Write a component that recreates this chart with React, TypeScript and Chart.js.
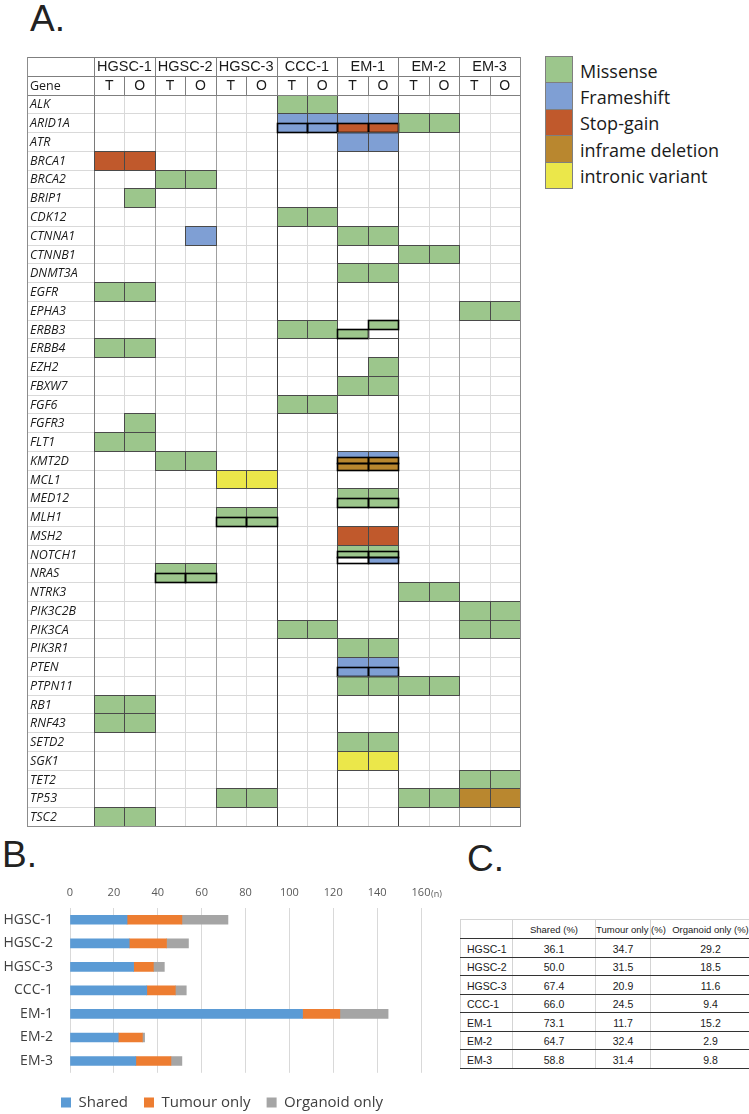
import React, { useEffect, useRef } from 'react';
import { Chart, registerables } from 'chart.js';

Chart.register(...registerables);

// ---------- Panel A data ----------
const genes = ['ALK', 'ARID1A', 'ATR', 'BRCA1', 'BRCA2', 'BRIP1', 'CDK12', 'CTNNA1', 'CTNNB1', 'DNMT3A', 'EGFR', 'EPHA3', 'ERBB3', 'ERBB4', 'EZH2', 'FBXW7', 'FGF6', 'FGFR3', 'FLT1', 'KMT2D', 'MCL1', 'MED12', 'MLH1', 'MSH2', 'NOTCH1', 'NRAS', 'NTRK3', 'PIK3C2B', 'PIK3CA', 'PIK3R1', 'PTEN', 'PTPN11', 'RB1', 'RNF43', 'SETD2', 'SGK1', 'TET2', 'TP53', 'TSC2'];
const cases = ['HGSC-1', 'HGSC-2', 'HGSC-3', 'CCC-1', 'EM-1', 'EM-2', 'EM-3'];
const samples = ['T', 'O'];
const geneHeader = 'Gene';
const mutationTypes = ['Missense', 'Frameshift', 'Stop-gain', 'inframe deletion', 'intronic variant'];
const mutationCodes = ['M', 'F', 'S', 'I', 'V'];
const mutationColors = ['#9cc68c', '#7f9fd4', '#c0592c', '#b9872f', '#ebe74a'];

// [gene, case, samples carrying it, variant slots top->bottom ('-' none, '*' distinct outlined variant)]
const variantCalls: [string, string, string, string[]][] = [
  ['ALK', 'CCC-1', 'TO', ['M']],
  ['ARID1A', 'CCC-1', 'TO', ['F', 'F*']],
  ['ARID1A', 'EM-1', 'TO', ['F', 'S*']],
  ['ARID1A', 'EM-2', 'TO', ['M']],
  ['ATR', 'EM-1', 'TO', ['F']],
  ['BRCA1', 'HGSC-1', 'TO', ['S']],
  ['BRCA2', 'HGSC-2', 'TO', ['M']],
  ['BRIP1', 'HGSC-1', 'O', ['M']],
  ['CDK12', 'CCC-1', 'TO', ['M']],
  ['CTNNA1', 'HGSC-2', 'O', ['F']],
  ['CTNNA1', 'EM-1', 'TO', ['M']],
  ['CTNNB1', 'EM-2', 'TO', ['M']],
  ['DNMT3A', 'EM-1', 'TO', ['M']],
  ['EGFR', 'HGSC-1', 'TO', ['M']],
  ['EPHA3', 'EM-3', 'TO', ['M']],
  ['ERBB3', 'CCC-1', 'TO', ['M']],
  ['ERBB3', 'EM-1', 'T', ['-', 'M*']],
  ['ERBB3', 'EM-1', 'O', ['M*', '-']],
  ['ERBB4', 'HGSC-1', 'TO', ['M']],
  ['EZH2', 'EM-1', 'O', ['M']],
  ['FBXW7', 'EM-1', 'TO', ['M']],
  ['FGF6', 'CCC-1', 'TO', ['M']],
  ['FGFR3', 'HGSC-1', 'O', ['M']],
  ['FLT1', 'HGSC-1', 'TO', ['M']],
  ['KMT2D', 'HGSC-2', 'TO', ['M']],
  ['KMT2D', 'EM-1', 'TO', ['F', 'I*', 'I*']],
  ['MCL1', 'HGSC-3', 'TO', ['V']],
  ['MED12', 'EM-1', 'TO', ['M', 'M*']],
  ['MLH1', 'HGSC-3', 'TO', ['M', 'M*']],
  ['MSH2', 'EM-1', 'TO', ['S']],
  ['NOTCH1', 'EM-1', 'T', ['M', 'M*', '-*']],
  ['NOTCH1', 'EM-1', 'O', ['M', 'M*', 'F*']],
  ['NRAS', 'HGSC-2', 'TO', ['M', 'M*']],
  ['NTRK3', 'EM-2', 'TO', ['M']],
  ['PIK3C2B', 'EM-3', 'TO', ['M']],
  ['PIK3CA', 'CCC-1', 'TO', ['M']],
  ['PIK3CA', 'EM-3', 'TO', ['M']],
  ['PIK3R1', 'EM-1', 'TO', ['M']],
  ['PTEN', 'EM-1', 'TO', ['F', 'F*']],
  ['PTPN11', 'EM-1', 'TO', ['M']],
  ['PTPN11', 'EM-2', 'TO', ['M']],
  ['RB1', 'HGSC-1', 'TO', ['M']],
  ['RNF43', 'HGSC-1', 'TO', ['M']],
  ['SETD2', 'EM-1', 'TO', ['M']],
  ['SGK1', 'EM-1', 'TO', ['V']],
  ['TET2', 'EM-3', 'TO', ['M']],
  ['TP53', 'HGSC-3', 'TO', ['M']],
  ['TP53', 'EM-2', 'TO', ['M']],
  ['TP53', 'EM-3', 'TO', ['I']],
  ['TSC2', 'HGSC-1', 'TO', ['M']],
];

// ---------- Panel B data ----------
const barSeriesNames = ['Shared', 'Tumour only', 'Organoid only'];
const sharedCounts = [26, 27, 29, 35, 106, 22, 30];
const tumourOnlyCounts = [25, 17, 9, 13, 17, 11, 16];
const organoidOnlyCounts = [21, 10, 5, 5, 22, 1, 5];
const barColors = ['#5b9bd5', '#ed7d31', '#a5a5a5'];
const countAxisMax = 160;
const countAxisStep = 20;
const unitLabel = '(n)';

// ---------- Panel C data ----------
const tableHeaders = ['', 'Shared (%)', 'Tumour only (%)', 'Organoid only (%)'];
const sharedPct = ['36.1', '50.0', '67.4', '66.0', '73.1', '64.7', '58.8'];
const tumourOnlyPct = ['34.7', '31.5', '20.9', '24.5', '11.7', '32.4', '31.4'];
const organoidOnlyPct = ['29.2', '18.5', '11.6', '9.4', '15.2', '2.9', '9.8'];

const GENE_COL_UNITS = 2.2;

const mutationGridPlugin = {
  id: 'mutationGrid',
  afterDraw(chart: any) {
    const { ctx } = chart;
    const xs = chart.scales.x;
    const ys = chart.scales.y;
    const X = (v: number) => xs.getPixelForValue(v);
    const Y = (v: number) => ys.getPixelForValue(v);
    const nCols = cases.length * samples.length;
    const nRows = genes.length + 2;
    const xMin = -GENE_COL_UNITS;
    const sn = (v: number) => Math.round(v) + 0.5;
    const hLine = (y: number, x0: number, x1: number, color: string, w = 1) => {
      ctx.strokeStyle = color; ctx.lineWidth = w;
      ctx.beginPath(); ctx.moveTo(Math.round(X(x0)), sn(Y(y))); ctx.lineTo(Math.round(X(x1)) + 1, sn(Y(y))); ctx.stroke();
    };
    const vLine = (x: number, y0: number, y1: number, color: string, w = 1) => {
      ctx.strokeStyle = color; ctx.lineWidth = w;
      ctx.beginPath(); ctx.moveTo(sn(X(x)), Math.round(Y(y0))); ctx.lineTo(sn(X(x)), Math.round(Y(y1)) + 1); ctx.stroke();
    };
    ctx.save();
    ctx.fillStyle = '#ffffff';
    ctx.fillRect(X(xMin), Y(0), X(nCols) - X(xMin), Y(nRows) - Y(0));

    const cells: { col: number; row: number; slots: string[] }[] = [];
    variantCalls.forEach(([gene, cs, smp, slots]) => {
      const row = genes.indexOf(gene) + 2;
      const g = cases.indexOf(cs);
      for (const s of smp) {
        cells.push({ col: g * samples.length + samples.indexOf(s), row, slots });
      }
    });
    // fills
    cells.forEach(({ col, row, slots }) => {
      const n = slots.length;
      slots.forEach((slot, k) => {
        const ti = mutationCodes.indexOf(slot[0]);
        if (ti < 0) return;
        const x0 = Math.round(X(col)), x1 = Math.round(X(col + 1));
        const y0 = Math.round(Y(row + k / n)), y1 = Math.round(Y(row + (k + 1) / n));
        ctx.fillStyle = mutationColors[ti];
        ctx.fillRect(x0, y0, x1 - x0, y1 - y0);
      });
    });
    // light grid
    for (let r = 3; r < nRows; r++) hLine(r, xMin, nCols, '#d9d9d9');
    for (let c = 1; c < nCols; c++) vLine(c, 2, nRows, '#d9d9d9');
    // group separators
    for (let c = 2; c < nCols; c += 2) {
      const dark = c === 6 || c === 8 || c === 10;
      vLine(c, 2, nRows, dark ? '#3c3c3c' : '#a0a0a0');
    }
    vLine(0, 0, nRows, '#7a7a7a');
    // filled cell outlines
    cells.forEach(({ col, row, slots }) => {
      const x0 = Math.round(X(col)), x1 = Math.round(X(col + 1));
      const y0 = Math.round(Y(row)), y1 = Math.round(Y(row + 1));
      ctx.strokeStyle = '#4a4a4a'; ctx.lineWidth = 1;
      if (slots.some((s) => s[0] !== '-')) {
        if (slots.length === 1 || slots[0][0] !== '-') ctx.strokeRect(x0 + 0.5, y0 + 0.5, x1 - x0, y1 - y0);
      }
      const n = slots.length;
      slots.forEach((slot, k) => {
        if (!slot.endsWith('*')) return;
        const sy0 = Math.round(Y(row + k / n)), sy1 = Math.round(Y(row + (k + 1) / n));
        ctx.strokeStyle = '#000000'; ctx.lineWidth = 1.6;
        ctx.strokeRect(x0 + 0.5, sy0 + 0.5, x1 - x0, sy1 - sy0);
      });
    });
    // header lines
    const hdr = '#7f7f7f';
    hLine(0, xMin, nCols, hdr);
    hLine(1, xMin, nCols, hdr);
    hLine(2, xMin, nCols, hdr);
    for (let c = 0; c <= nCols; c += 2) vLine(c, 0, 1, hdr);
    for (let c = 0; c <= nCols; c++) vLine(c, 1, 2, hdr);
    // outer border
    vLine(xMin, 0, nRows, '#8c8c8c');
    vLine(nCols, 0, nRows, '#8c8c8c');
    hLine(nRows, xMin, nCols, '#8c8c8c');

    // text
    ctx.fillStyle = '#1a1a1a';
    ctx.textBaseline = 'middle';
    ctx.textAlign = 'center';
    ctx.font = '14.5px "Liberation Sans", Arial, sans-serif';
    cases.forEach((cs, g) => ctx.fillText(cs, X(g * 2 + 1), Y(0.5) + 1));
    ctx.font = '14px "Liberation Sans", Arial, sans-serif';
    for (let c = 0; c < nCols; c++) ctx.fillText(samples[c % 2], X(c + 0.5), Y(1.5) + 1);
    ctx.textAlign = 'left';
    ctx.font = '12.5px "Open Sans", sans-serif';
    ctx.fillText(geneHeader, X(xMin) + 3, Y(1.5) + 1);
    ctx.font = 'italic 12.5px "Open Sans", sans-serif';
    genes.forEach((gname, i) => ctx.fillText(gname, X(xMin) + 3, Y(i + 2.5) + 1));
    ctx.restore();
  },
};

const unitLabelPlugin = {
  id: 'unitLabel',
  afterDraw(chart: any) {
    const { ctx, chartArea } = chart;
    const xs = chart.scales.x;
    ctx.save();
    ctx.font = '9px "Open Sans", sans-serif';
    ctx.fillStyle = '#595959';
    ctx.textBaseline = 'middle';
    ctx.textAlign = 'left';
    ctx.fillText(unitLabel, xs.getPixelForValue(xs.max) + 10, chartArea.top - 14);
    ctx.restore();
  },
};

const panelLabel = (text: string, left: number, top: number) => (
  <div
    style={{
      position: 'absolute', left, top, fontFamily: '"Liberation Sans", Arial, sans-serif',
      fontSize: 37, lineHeight: '37px', color: '#222',
    }}
  >
    {text}
  </div>
);

export default function App() {
  const heatRef = useRef<HTMLCanvasElement>(null);
  const barRef = useRef<HTMLCanvasElement>(null);

  useEffect(() => {
    const heat = new Chart(heatRef.current as HTMLCanvasElement, {
      type: 'scatter',
      data: { datasets: [{ data: [] }] },
      options: {
        animation: false,
        responsive: false,
        maintainAspectRatio: false,
        events: [],
        layout: { padding: 5 },
        scales: {
          x: { type: 'linear', min: -GENE_COL_UNITS, max: cases.length * samples.length, display: false },
          y: { type: 'linear', min: 0, max: genes.length + 2, reverse: true, display: false },
        },
        plugins: { legend: { display: false }, tooltip: { enabled: false } },
      },
      plugins: [mutationGridPlugin],
    } as any);

    const bar = new Chart(barRef.current as HTMLCanvasElement, {
      type: 'bar',
      data: {
        labels: cases,
        datasets: [
          { label: barSeriesNames[0], data: sharedCounts, backgroundColor: barColors[0], barThickness: 9 },
          { label: barSeriesNames[1], data: tumourOnlyCounts, backgroundColor: barColors[1], barThickness: 9 },
          { label: barSeriesNames[2], data: organoidOnlyCounts, backgroundColor: barColors[2], barThickness: 9 },
        ],
      },
      options: {
        indexAxis: 'y',
        animation: false,
        responsive: false,
        maintainAspectRatio: false,
        events: [],
        layout: { padding: 0 },
        scales: {
          x: {
            stacked: true,
            position: 'top',
            min: 0,
            max: countAxisMax,
            ticks: { stepSize: countAxisStep, color: '#595959', font: { family: '"Open Sans", sans-serif', size: 11 }, padding: 9 },
            grid: { color: '#d9d9d9', drawTicks: false },
            border: { display: false },
            afterFit: (s: any) => { s.height = 38; },
          },
          y: {
            stacked: true,
            ticks: { color: '#404040', font: { family: '"Open Sans", sans-serif', size: 14 }, padding: 17 },
            grid: { display: false, drawTicks: false },
            border: { display: false },
            afterFit: (s: any) => { s.width = 70; },
          },
          yGutter: {
            type: 'category',
            position: 'right',
            ticks: { display: false },
            grid: { display: false, drawTicks: false },
            border: { display: false },
            afterFit: (s: any) => { s.width = 23; },
          },
        },
        plugins: {
          legend: {
            position: 'bottom',
            title: { display: true, text: '', padding: 2.5, font: { size: 1 } },
            labels: {
              boxWidth: 10, boxHeight: 10, padding: 16, color: '#404040',
              font: { family: '"Open Sans", sans-serif', size: 15 },
            },
          },
          tooltip: { enabled: false },
        },
      },
      plugins: [unitLabelPlugin],
    } as any);

    return () => {
      heat.destroy();
      bar.destroy();
    };
  }, []);

  const legendRowH = 26.4;
  const colW = [52, 83, 55, 120];
  const light = '1px solid #d4d4d4';
  const dark = '1px solid #333';

  return (
    <div style={{ position: 'absolute', left: 0, top: 0, width: 749, height: 1114, overflow: 'hidden', background: '#fff' }}>
      {panelLabel('A.', 30, 0)}
      {panelLabel('B.', 2, 836)}
      {panelLabel('C.', 467, 840)}

      <canvas ref={heatRef} width={503} height={779} style={{ position: 'absolute', left: 22, top: 52, width: 503, height: 779 }} />

      <div style={{ position: 'absolute', left: 545, top: 56 }}>
        {mutationTypes.map((t, i) => (
          <React.Fragment key={t}>
            <div
              style={{
                position: 'absolute', left: 0, top: i * legendRowH, width: 28, height: legendRowH + 1,
                background: mutationColors[i], border: '1px solid #7f7f7f', boxSizing: 'border-box',
              }}
            />
            <div
              style={{
                position: 'absolute', left: 35, top: i * legendRowH + 1.5, height: legendRowH, lineHeight: `${legendRowH}px`,
                fontFamily: '"Open Sans", sans-serif', fontSize: 18, color: '#1a1a1a', whiteSpace: 'nowrap',
              }}
            >
              {t}
            </div>
          </React.Fragment>
        ))}
      </div>

      <canvas ref={barRef} width={444} height={250} style={{ position: 'absolute', left: 0, top: 870, width: 444, height: 250 }} />

      <table
        style={{
          position: 'absolute', left: 460, top: 919, borderCollapse: 'collapse', tableLayout: 'fixed',
          width: colW.reduce((a, b) => a + b, 0), fontFamily: '"Liberation Sans", Arial, sans-serif', color: '#1a1a1a',
        }}
      >
        <colgroup>
          {colW.map((w, i) => <col key={i} style={{ width: w }} />)}
        </colgroup>
        <thead>
          <tr style={{ height: 19 }}>
            {tableHeaders.map((h, i) => (
              <th
                key={i}
                style={{
                  borderTop: light, borderLeft: light, borderRight: light, borderBottom: dark,
                  fontWeight: 'normal', fontSize: 9.5, padding: 0, textAlign: 'center', whiteSpace: 'nowrap',
                  overflow: 'visible', verticalAlign: 'middle',
                }}
              >
                {h}
              </th>
            ))}
          </tr>
        </thead>
        <tbody>
          {cases.map((cs, i) => (
            <tr key={cs} style={{ height: 18.5 }}>
              {[cs, sharedPct[i], tumourOnlyPct[i], organoidOnlyPct[i]].map((v, j) => (
                <td
                  key={j}
                  style={{
                    borderTop: dark, borderBottom: dark, borderLeft: light, borderRight: light,
                    fontSize: 10.5, padding: 0, paddingLeft: j === 0 ? 6 : 0, paddingBottom: 1,
                    textAlign: j === 0 ? 'left' : 'center', verticalAlign: 'bottom', whiteSpace: 'nowrap', lineHeight: '14px',
                  }}
                >
                  {v}
                </td>
              ))}
            </tr>
          ))}
        </tbody>
      </table>
    </div>
  );
}
